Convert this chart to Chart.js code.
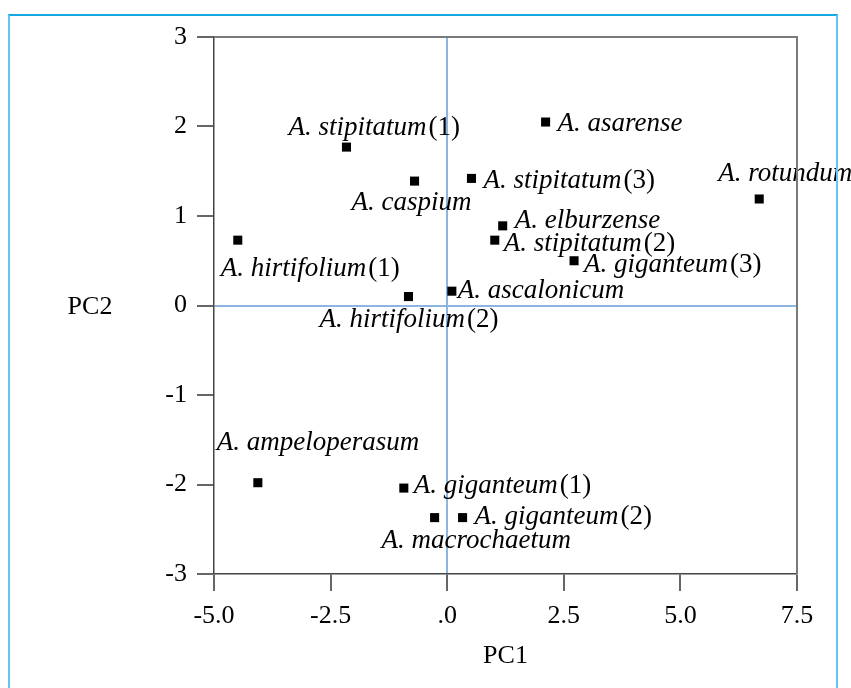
<!DOCTYPE html>
<html>
<head>
<meta charset="utf-8">
<script src="https://cdn.jsdelivr.net/npm/chart.js@4"></script>
<style>
  html, body { margin: 0; padding: 0; background: #fff; }
  #wrap { position: relative; width: 851px; height: 688px; overflow: hidden; }
  #frame {
    position: absolute; left: 8px; top: 14px; width: 826px; height: 700px;
    border: 2px solid #62c8ef; border-top-color: #15a8e0; border-bottom: none;
    pointer-events: none;
  }
  canvas { position: absolute; left: 0; top: 0; }
</style>
</head>
<body>
<div id="wrap">
  <canvas id="pca" width="851" height="688"></canvas>
  <div id="frame"></div>
</div>
<script>
const species = [
  "A. stipitatum", "A. caspium", "A. stipitatum", "A. asarense", "A. rotundum",
  "A. elburzense", "A. stipitatum", "A. giganteum", "A. hirtifolium", "A. hirtifolium",
  "A. ascalonicum", "A. ampeloperasum", "A. giganteum", "A. giganteum", "A. macrochaetum",
];
const accession = ["(1)", "", "(3)", "", "", "", "(2)", "(3)", "(1)", "(2)", "", "", "(1)", "(2)", ""];
const pc1 = [-2.16, -0.70, 0.52, 2.11, 6.69, 1.19, 1.02, 2.72, -4.49, -0.83, 0.10, -4.06, -0.93, 0.33, -0.27];
const pc2 = [1.77, 1.39, 1.42, 2.05, 1.19, 0.89, 0.73, 0.50, 0.73, 0.10, 0.16, -1.98, -2.04, -2.37, -2.37];
const xTickLabels = ["-5.0", "-2.5", ".0", "2.5", "5.0", "7.5"];
const yTickLabels = ["-3", "-2", "-1", "0", "1", "2", "3"];

// where each label sits relative to its marker (start of text, baseline), px
const labelOffsets = [
  [-58, -12], [-63, 29], [12, 10], [12, 9], [-41, -18],
  [12, 2], [9, 11], [10, 11], [-17, 36], [-89, 30],
  [6, 7], [-41, -33], [10, 5], [12, 6], [-53, 30],
];

const FONT = "'Liberation Serif', 'Times New Roman', serif";
const zeroLine = "#8cb6e0";

const pointLabels = {
  id: "pointLabels",
  afterDatasetsDraw(chart) {
    const { ctx, scales } = chart;
    ctx.save();
    ctx.fillStyle = "#000";
    ctx.textBaseline = "alphabetic";
    ctx.textAlign = "left";
    species.forEach((name, i) => {
      const x = scales.x.getPixelForValue(pc1[i]) + labelOffsets[i][0];
      const y = scales.y.getPixelForValue(pc2[i]) + labelOffsets[i][1];
      ctx.font = `italic 27px ${FONT}`;
      ctx.fillText(name, x, y);
      if (accession[i]) {
        const w = ctx.measureText(name).width;
        ctx.font = `27px ${FONT}`;
        ctx.fillText(accession[i], x + w + 2, y);
      }
    });
    ctx.restore();
  },
};

const plotFrame = {
  id: "plotFrame",
  afterDraw(chart) {
    const { ctx, chartArea: a, scales } = chart;
    ctx.save();
    ctx.strokeStyle = "#7a7a7a";
    ctx.lineWidth = 2;
    ctx.beginPath();
    ctx.moveTo(a.left, a.top);
    ctx.lineTo(a.right, a.top);
    ctx.lineTo(a.right, a.bottom);
    ctx.stroke();

    ctx.fillStyle = "#000";
    ctx.font = `26px ${FONT}`;
    ctx.textAlign = "center";
    ctx.textBaseline = "middle";
    ctx.fillText("PC1", (a.left + a.right) / 2, a.bottom + 82);
    ctx.fillText("PC2", a.left - 124, scales.y.getPixelForValue(0) + 2);
    ctx.restore();
  },
};

function axisGrid(tickLen) {
  return {
    drawOnChartArea: true,
    color: (c) => (c.tick && c.tick.value === 0 ? zeroLine : "rgba(0,0,0,0)"),
    lineWidth: (c) => (c.tick && c.tick.value === 0 ? 2 : 0),
    tickColor: "#333",
    tickWidth: 1.5,
    tickLength: tickLen,
  };
}

new Chart(document.getElementById("pca"), {
  type: "scatter",
  data: {
    datasets: [
      {
        data: pc1.map((x, i) => ({ x, y: pc2[i] })),
        pointStyle: "rect",
        pointRadius: 6.4,
        pointHoverRadius: 6.4,
        backgroundColor: "#000",
        borderWidth: 0,
      },
    ],
  },
  options: {
    responsive: false,
    animation: false,
    devicePixelRatio: 1,
    layout: { padding: { left: 0, right: 54, top: 37, bottom: 0 } },
    plugins: {
      legend: { display: false },
      tooltip: { enabled: false },
    },
    scales: {
      x: {
        type: "linear",
        min: -5,
        max: 7.5,
        afterFit: (s) => { s.height = 114; },
        ticks: {
          stepSize: 2.5,
          color: "#000",
          font: { family: FONT, size: 26 },
          padding: 10,
          maxRotation: 0,
          callback: (v, i) => xTickLabels[i],
        },
        grid: axisGrid(17),
        border: { display: true, color: "#444", width: 1.5 },
      },
      y: {
        type: "linear",
        min: -3,
        max: 3,
        afterFit: (s) => { s.width = 214; },
        ticks: {
          stepSize: 1,
          color: "#000",
          font: { family: FONT, size: 26 },
          padding: 10,
          callback: (v, i) => yTickLabels[i],
        },
        grid: axisGrid(17),
        border: { display: true, color: "#444", width: 1.5 },
      },
    },
  },
  plugins: [pointLabels, plotFrame],
});
</script>
</body>
</html>
